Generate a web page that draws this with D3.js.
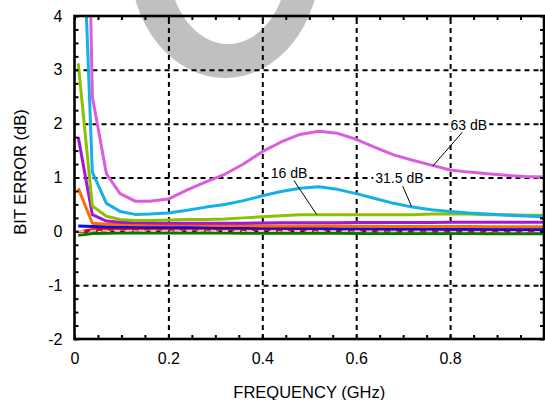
<!DOCTYPE html>
<html>
<head>
<meta charset="utf-8">
<script src="https://cdn.jsdelivr.net/npm/d3@7"></script>
<style>
  body { margin: 0; background: #fff; }
  svg { display: block; font-family: "Liberation Sans", Arial, Helvetica, sans-serif; }
</style>
</head>
<body>
<div id="chart"></div>
<script>
// data
var freq = [0.008, 0.038, 0.068, 0.097, 0.129, 0.16, 0.2, 0.24, 0.28, 0.32, 0.36, 0.4, 0.44, 0.48,
            0.52, 0.56, 0.6, 0.64, 0.68, 0.72, 0.76, 0.8, 0.84, 0.88, 0.92, 0.96, 1.0];

var err63   = [16, 2.5, 1.07, 0.70, 0.56, 0.56, 0.60, 0.77, 0.92, 1.06, 1.25, 1.48, 1.66, 1.80,
               1.86, 1.82, 1.71, 1.56, 1.42, 1.32, 1.23, 1.14, 1.10, 1.07, 1.04, 1.02, 1.01];
var err31_5 = [8.0, 1.10, 0.52, 0.37, 0.315, 0.32, 0.34, 0.39, 0.45, 0.50, 0.57, 0.66, 0.74, 0.80,
               0.83, 0.78, 0.70, 0.61, 0.52, 0.45, 0.40, 0.37, 0.34, 0.32, 0.30, 0.285, 0.27];
var err16   = [3.12, 0.47, 0.28, 0.22, 0.20, 0.20, 0.21, 0.22, 0.22, 0.23, 0.25, 0.27, 0.29, 0.31,
               0.31, 0.31, 0.31, 0.31, 0.31, 0.31, 0.32, 0.32, 0.32, 0.31, 0.31, 0.30, 0.30];
var err8    = [1.75, 0.31, 0.19, 0.17, 0.16, 0.155, 0.15, 0.15, 0.15, 0.15, 0.15, 0.155, 0.16, 0.16,
               0.16, 0.16, 0.165, 0.165, 0.165, 0.165, 0.165, 0.17, 0.17, 0.17, 0.17, 0.17, 0.17];
var err4    = [0.80, 0.15, 0.13, 0.13, 0.12, 0.12, 0.12, 0.12, 0.115, 0.11, 0.11, 0.10, 0.10, 0.10,
               0.10, 0.10, 0.095, 0.095, 0.09, 0.09, 0.09, 0.09, 0.09, 0.085, 0.085, 0.085, 0.085];
var err2    = [0.10, 0.09, 0.085, 0.08, 0.08, 0.075, 0.075, 0.07, 0.07, 0.065, 0.065, 0.06, 0.06, 0.055,
               0.055, 0.05, 0.05, 0.05, 0.045, 0.045, 0.045, 0.04, 0.04, 0.04, 0.035, 0.035, 0.035];
var err1    = [-0.01, 0.03, 0.04, 0.045, 0.045, 0.045, 0.04, 0.04, 0.04, 0.035, 0.035, 0.035, 0.03, 0.03,
               0.03, 0.025, 0.025, 0.02, 0.02, 0.02, 0.015, 0.015, 0.01, 0.01, 0.01, 0.005, 0.005];
var err0_5  = [-0.075, -0.04, -0.035, -0.03, -0.03, -0.03, -0.03, -0.03, -0.03, -0.03, -0.035, -0.035, -0.035, -0.035,
               -0.035, -0.035, -0.04, -0.04, -0.04, -0.04, -0.04, -0.04, -0.04, -0.045, -0.045, -0.045, -0.045];
var errRef  = [0.0, 0.01, 0.01, 0.01, 0.01, 0.01, 0.01, 0.01, 0.01, 0.005, 0.005, 0.005, 0.005, 0.005,
               0.005, 0.005, 0.005, 0.0, 0.0, 0.0, 0.0, 0.0, 0.0, 0.0, 0.0, 0.0, 0.0];

var xTicks = [0, 0.2, 0.4, 0.6, 0.8];
var xTickLabels = ["0", "0.2", "0.4", "0.6", "0.8"];
var yTicks = [-2, -1, 0, 1, 2, 3, 4];
var yTickLabels = ["-2", "-1", "0", "1", "2", "3", "4"];

var callouts = ["63 dB", "16 dB", "31.5 dB"];

var width = 545;
var height = 400;
var plotL = 74.5, plotR = 544, plotT = 16, plotB = 339;

var svg = d3.select("#chart")
      .append("svg")
      .attr("width", width)
      .attr("height", height);

var x = d3.scaleLinear().domain([0, 1]).range([plotL, plotR]);
var y = d3.scaleLinear().domain([-2, 4]).range([plotB, plotT]);

// grey watermark ring behind everything
svg.append("path")
  .attr("fill", "#c0c0c0")
  .attr("fill-rule", "evenodd")
  .attr("d", "M130,-39a95,117 0 1,0 190,0a95,117 0 1,0 -190,0Z" +
             "M168,-39a60,83 0 1,0 120,0a60,83 0 1,0 -120,0Z");

// dashed grid
svg.append("g")
  .attr("transform", "translate(0," + plotB + ")")
  .call(d3.axisBottom(x).tickValues(xTicks.slice(1)).tickSize(-(plotB - plotT)).tickFormat(""))
  .call(function(g) { g.select(".domain").remove(); })
  .selectAll("line")
  .attr("stroke", "#000")
  .attr("stroke-width", 2)
  .attr("stroke-dasharray", "5,4");

svg.append("g")
  .attr("transform", "translate(" + plotL + ",0)")
  .call(d3.axisLeft(y).tickValues(yTicks.slice(1, -1)).tickSize(-(plotR - plotL)).tickFormat(""))
  .call(function(g) { g.select(".domain").remove(); })
  .selectAll("line")
  .attr("stroke", "#000")
  .attr("stroke-width", 2)
  .attr("stroke-dasharray", "5,4");

// curves
svg.append("clipPath").attr("id", "plotclip")
  .append("rect")
  .attr("x", plotL).attr("y", plotT)
  .attr("width", plotR - plotL).attr("height", plotB - plotT);

var series = [
  {vals: err0_5, color: "#007a00"},
  {vals: err1, color: "#ee0000"},
  {vals: errRef, color: "#f3b9b9", dash: "6,6", w: 2},
  {vals: err2, color: "#0010ee"},
  {vals: err4, color: "#ff6a00"},
  {vals: err8, color: "#a516d4"},
  {vals: err16, color: "#8cc000"},
  {vals: err31_5, color: "#14b0e8"},
  {vals: err63, color: "#dc5ddc"}
];

var line = d3.line()
  .x(function(d, i) { return x(freq[i]); })
  .y(function(d) { return y(d); });

svg.append("g")
  .attr("clip-path", "url(#plotclip)")
  .selectAll("path")
  .data(series)
  .enter()
  .append("path")
  .attr("d", function(d) { return line(d.vals); })
  .attr("fill", "none")
  .attr("stroke", function(d) { return d.color; })
  .attr("stroke-width", function(d) { return d.w || 3; })
  .attr("stroke-dasharray", function(d) { return d.dash || null; })
  .attr("stroke-linejoin", "round");

// frame and inward minor ticks
var xMinor = x.ticks(20);
var yMinor = d3.range(-2, 4.001, 0.25);

function ticks(g) {
  g.select(".domain").remove();
  g.selectAll("line").attr("stroke", "#000").attr("stroke-width", 2);
}
svg.append("g").attr("transform", "translate(0," + plotB + ")")
  .call(d3.axisBottom(x).tickValues(xMinor).tickSize(-4).tickFormat("")).call(ticks);
svg.append("g").attr("transform", "translate(0," + plotT + ")")
  .call(d3.axisTop(x).tickValues(xMinor).tickSize(-4).tickFormat("")).call(ticks);
svg.append("g").attr("transform", "translate(" + plotL + ",0)")
  .call(d3.axisLeft(y).tickValues(yMinor).tickSize(-4).tickFormat("")).call(ticks);
svg.append("g").attr("transform", "translate(" + plotR + ",0)")
  .call(d3.axisRight(y).tickValues(yMinor).tickSize(-4).tickFormat("")).call(ticks);

svg.append("rect")
  .attr("x", plotL).attr("y", plotT)
  .attr("width", plotR - plotL).attr("height", plotB - plotT)
  .attr("fill", "none")
  .attr("stroke", "#000")
  .attr("stroke-width", 2.6);

// tick labels
var xAxis = svg.append("g")
  .attr("transform", "translate(0," + plotB + ")")
  .call(d3.axisBottom(x).tickValues(xTicks).tickSize(0).tickPadding(14)
        .tickFormat(function(d, i) { return xTickLabels[i]; }));
xAxis.select(".domain").remove();
xAxis.selectAll("text").attr("font-size", 16).attr("font-family", null).attr("fill", "#000");

var yAxis = svg.append("g")
  .attr("transform", "translate(" + plotL + ",0)")
  .call(d3.axisLeft(y).tickValues(yTicks).tickSize(0).tickPadding(12)
        .tickFormat(function(d, i) { return yTickLabels[i]; }));
yAxis.select(".domain").remove();
yAxis.selectAll("text").attr("font-size", 16).attr("font-family", null).attr("fill", "#000");

// axis titles
svg.append("text")
  .attr("x", (plotL + plotR) / 2)
  .attr("y", 398)
  .attr("text-anchor", "middle")
  .attr("font-size", 16.5)
  .text("FREQUENCY (GHz)");

svg.append("text")
  .attr("transform", "translate(26," + 172 + ") rotate(-90)")
  .attr("text-anchor", "middle")
  .attr("font-size", 16.5)
  .text("BIT ERROR (dB)");

// callouts: label centre and the point on the curve, in data units
var calloutAt = [[0.84, 1.98, 0.763, 1.21], [0.457, 1.08, 0.516, 0.31], [0.692, 0.98, 0.718, 0.46]];

calloutAt.forEach(function(c, i) {
  var cx = x(c[0]), cy = y(c[1]), tx = x(c[2]), ty = y(c[3]);
  var g = svg.append("g");
  var bg = g.append("rect").attr("fill", "#fff");
  var t = g.append("text")
    .attr("x", cx).attr("y", cy)
    .attr("dy", "0.35em")
    .attr("text-anchor", "middle")
    .attr("font-size", 14)
    .text(callouts[i]);
  var b = t.node().getBBox();
  bg.attr("x", b.x - 2).attr("y", b.y + 1).attr("width", b.width + 4).attr("height", b.height - 2);
  var dy = 7.5, dx = (tx - cx) * dy / (ty - cy);
  g.append("line")
    .attr("x1", cx + dx).attr("y1", cy + dy)
    .attr("x2", tx).attr("y2", ty)
    .attr("stroke", "#000")
    .attr("stroke-width", 1);
});
</script>
</body>
</html>
